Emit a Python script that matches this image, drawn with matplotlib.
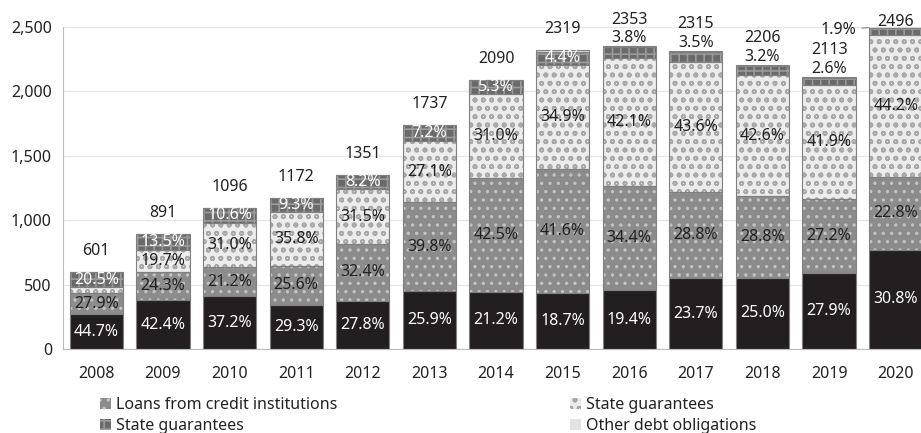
import matplotlib
matplotlib.use('Agg')
import matplotlib.pyplot as plt
from matplotlib.patches import Patch
import numpy as np

years = ['2008', '2009', '2010', '2011', '2012', '2013', '2014',
         '2015', '2016', '2017', '2018', '2019', '2020']
totals = [601, 891, 1096, 1172, 1351, 1737, 2090, 2319, 2353, 2315, 2206, 2113, 2496]

# shares of the total, bottom to top (%)
black_share = [44.7, 42.4, 37.2, 29.3, 27.8, 25.9, 21.2, 18.7, 19.4, 23.7, 25.0, 27.9, 30.8]
loans_share = [27.9, 24.3, 21.2, 25.6, 32.4, 39.8, 42.5, 41.6, 34.4, 28.8, 28.8, 27.2, 22.8]
guar_share = [6.9, 19.7, 31.0, 35.8, 31.5, 27.1, 31.0, 34.9, 42.1, 43.6, 42.6, 41.9, 44.2]
guar2_share = [20.5, 13.5, 10.6, 9.3, 8.2, 7.2, 5.3, 4.4, 3.8, 3.5, 3.2, 2.6, 1.9]
guar_labels = ['', '19.7%', '31.0%', '35.8%', '31.5%', '27.1%', '31.0%',
               '34.9%', '42.1%', '43.6%', '42.6%', '41.9%', '44.2%']

plt.rcParams['font.family'] = ['Noto Sans', 'DejaVu Sans']
plt.rcParams['hatch.linewidth'] = 1.2

fig = plt.figure(figsize=(9.21, 4.33), dpi=100)
ax = fig.add_axes([63 / 921, 84 / 433, 866 / 921, 322 / 433])

x = np.arange(len(years))
tot = np.array(totals, dtype=float)
shares = [black_share, loans_share, guar_share, guar2_share]
other_share = 100 - np.sum(shares, axis=0)
other_share[0] = 0
shares.append(list(other_share))

styles = [
    dict(face='#231f20', hatch=None, hcol='#231f20'),
    dict(face='#8c8c8c', hatch='..', hcol='#c4c4c4'),
    dict(face='#ececec', hatch='oo', hcol='#a8a8a8'),
    dict(face='#6a6a6a', hatch='++', hcol='#9a9a9a'),
    dict(face='#e2e2e2', hatch=None, hcol='#e2e2e2'),
]

w = 0.8
bottom = np.zeros(len(years))
segs = []
for sh, st in zip(shares, styles):
    h = tot * np.array(sh) / 100
    ax.bar(x, h, w, bottom=bottom, color=st['face'], edgecolor=st['hcol'],
           hatch=st['hatch'], linewidth=0, zorder=2)
    ax.bar(x, h, w, bottom=bottom, fill=False, edgecolor='#808080',
           linewidth=0.8, zorder=3)
    segs.append((bottom.copy(), h))
    bottom = bottom + h

fs = 11.5
for i in range(len(years)):
    b0, h0 = segs[0][0][i], segs[0][1][i]
    ax.text(x[i], b0 + h0 / 2, f'{black_share[i]:.1f}%', ha='center', va='center',
            color='white', fontsize=fs, zorder=5)
    b1, h1 = segs[1][0][i], segs[1][1][i]
    ax.text(x[i], b1 + h1 / 2, f'{loans_share[i]:.1f}%', ha='center', va='center',
            color='#222222', fontsize=fs, zorder=5)
    if guar_labels[i]:
        b2, h2 = segs[2][0][i], segs[2][1][i]
        ax.text(x[i], b2 + h2 / 2, guar_labels[i], ha='center', va='center',
                color='#222222', fontsize=fs, zorder=5)
    b3, h3 = segs[3][0][i], segs[3][1][i]
    lab = f'{guar2_share[i]:.1f}%'
    if i <= 7:
        ax.text(x[i], b3 + h3 / 2, lab, ha='center', va='center',
                color='white', fontsize=fs, zorder=5)
        ax.annotate(str(totals[i]), (x[i], tot[i]), xytext=(0, 15),
                    textcoords='offset points', ha='center', va='center',
                    fontsize=fs, color='#222222', annotation_clip=False)
    elif i < 12:
        ax.annotate(lab, (x[i], tot[i]), xytext=(0, 5.5),
                    textcoords='offset points', ha='center', va='center',
                    fontsize=fs, color='#222222', annotation_clip=False)
        ax.annotate(str(totals[i]), (x[i], tot[i]), xytext=(0, 19),
                    textcoords='offset points', ha='center', va='center',
                    fontsize=fs, color='#222222', annotation_clip=False)
    else:
        ax.annotate(lab, (x[i] - w / 2, tot[i]), xytext=(-22, -2),
                    textcoords='offset points', ha='center', va='center',
                    fontsize=fs, color='#222222', annotation_clip=False,
                    arrowprops=dict(arrowstyle='-', color='#888888', lw=0.8,
                                    shrinkA=2, shrinkB=0))
        ax.annotate(str(totals[i]), (x[i], tot[i]), xytext=(0, 4),
                    textcoords='offset points', ha='center', va='center',
                    fontsize=fs, color='#222222', annotation_clip=False)

ax.set_xlim(-0.5, len(years) - 0.5)
ax.set_ylim(0, 2500)
ax.set_yticks(np.arange(0, 2501, 500))
ax.set_yticklabels([f'{v:,}' for v in range(0, 2501, 500)])
ax.set_xticks(x)
ax.set_xticklabels(years)
ax.tick_params(axis='both', length=0, labelsize=11.5, colors='#222222')
ax.tick_params(axis='x', pad=12)
ax.tick_params(axis='y', pad=8)
ax.yaxis.grid(True, color='#e6e6e6', lw=1)
ax.set_axisbelow(True)
for s in ['top', 'right']:
    ax.spines[s].set_visible(False)
for s in ['left', 'bottom']:
    ax.spines[s].set_color('#bbbbbb')

def handle(st):
    return Patch(facecolor=st['face'], edgecolor=st['hcol'], hatch=st['hatch'], lw=0)

leg_kw = dict(frameon=False, fontsize=11.5, handlelength=0.7, handleheight=0.7,
              handletextpad=0.3, labelspacing=0.3, borderpad=0, labelcolor='#222222')
fig.legend([handle(styles[1]), handle(styles[3])],
           ['Loans from credit institutions', 'State guarantees'],
           loc='upper left', bbox_to_anchor=(92 / 921, 1 - 389 / 433), **leg_kw)
fig.legend([handle(styles[2]), handle(styles[4])],
           ['State guarantees', 'Other debt obligations'],
           loc='upper left', bbox_to_anchor=(562 / 921, 1 - 389 / 433), **leg_kw)

fig.savefig('out.png', dpi=100)
